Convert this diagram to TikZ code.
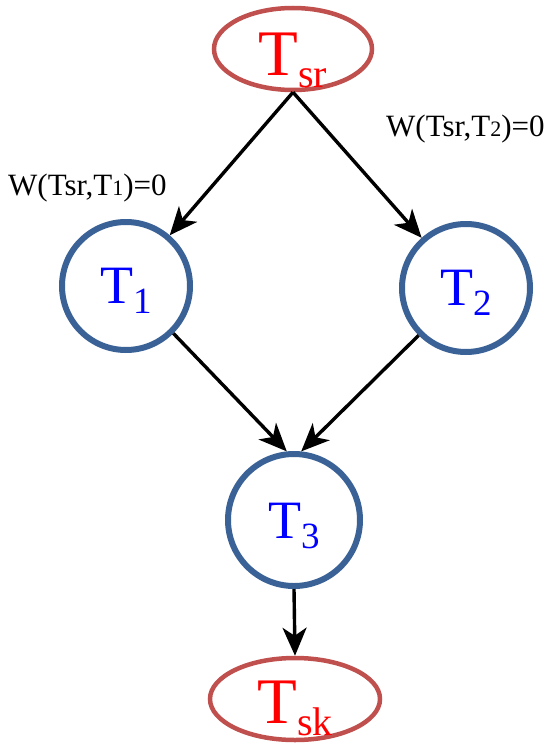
\documentclass[tikz,border=0pt]{standalone}
\usepackage{fontspec}
\setmainfont{Liberation Serif}
\newfontfamily\nodefont{Liberation Serif}
\usetikzlibrary{shapes.geometric,arrows.meta}
\definecolor{ellred}{RGB}{192,80,77}
\definecolor{circblue}{RGB}{59,98,150}
\definecolor{txtred}{RGB}{255,0,0}
\definecolor{txtblue}{RGB}{0,0,255}
\tikzset{
  term/.style={ellipse,draw=ellred,line width=4.5pt,minimum width=158pt,minimum height=82pt,inner sep=0pt,text=txtred,font=\nodefont},
  task/.style={circle,draw=circblue,line width=6pt,minimum size=128pt,inner sep=0pt,text=txtblue,font=\nodefont},
  conn/.style={line width=3.4pt,-{Stealth[length=28pt,width=24pt,inset=8pt]}},
  wlabel/.style={inner sep=0pt,anchor=base west,font=\nodefont\fontsize{31}{31}\selectfont}
}
\begin{document}
\begin{tikzpicture}[x=1pt,y=-1pt]
\useasboundingbox (0,0) rectangle (548,744);
\node[term] (Tsr) at (293,49) {\raisebox{-26pt}[0pt][0pt]{\fontsize{65}{65}\selectfont T\raisebox{-12pt}{\fontsize{40}{40}\selectfont sr}}};
\node[task] (T1) at (126,286) {\raisebox{-17pt}[0pt][0pt]{\fontsize{54}{54}\selectfont T\raisebox{-10pt}{\fontsize{37}{37}\selectfont 1}}};
\node[task] (T2) at (466,288) {\raisebox{-17pt}[0pt][0pt]{\fontsize{54}{54}\selectfont T\raisebox{-10pt}{\fontsize{37}{37}\selectfont 2}}};
\node[task,minimum size=132pt] (T3) at (294,520) {\raisebox{-18pt}[0pt][0pt]{\fontsize{54}{54}\selectfont T\raisebox{-10pt}{\fontsize{37}{37}\selectfont 3}}};
\node[term,minimum width=170pt] (Tsk) at (295,699) {\raisebox{-24pt}[0pt][0pt]{\fontsize{65}{65}\selectfont T\raisebox{-12pt}{\fontsize{40}{40}\selectfont sk}}};
\node[wlabel] (w1) at (8,195) {W(Tsr,T{\fontsize{22}{22}\selectfont 1})=0};
\node[wlabel] (w2) at (386,136) {W(Tsr,T{\fontsize{22}{22}\selectfont 2})=0};
\draw[conn] (Tsr.south) -- (T1);
\draw[conn] (Tsr.south) -- (T2);
\draw[conn] (T1.-45) -- (T3.96);
\draw[conn] (T2.-135) -- (T3.84);
\draw[conn] (T3.south) -- (Tsk.north);
\end{tikzpicture}
\end{document}
